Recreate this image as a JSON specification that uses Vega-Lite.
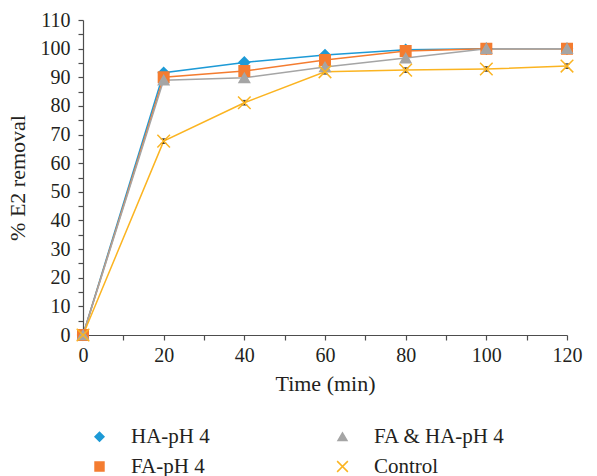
{
  "$schema": "https://vega.github.io/schema/vega-lite/v6.json",
  "width": 484,
  "height": 315,
  "autosize": {"type": "none"},
  "padding": {"left": 83, "top": 20, "right": 30, "bottom": 141},
  "background": "white",
  "config": {
    "font": "Liberation Serif",
    "view": {"stroke": null},
    "axis": {
      "grid": false,
      "domainColor": "#4d4d4d",
      "tickColor": "#4d4d4d",
      "domainWidth": 1.2,
      "tickWidth": 1.2,
      "tickSize": 5,
      "labelFont": "Liberation Serif",
      "titleFont": "Liberation Serif",
      "labelFontSize": 20,
      "titleFontSize": 22,
      "titleFontWeight": "normal",
      "labelColor": "#231f20",
      "titleColor": "#231f20"
    },
    "legend": {
      "labelFont": "Liberation Serif",
      "labelFontSize": 21,
      "labelColor": "#231f20"
    }
  },
  "data": {
    "values": [
      {"time": 0, "removal": 0, "series": "HA-pH 4"},
      {"time": 20, "removal": 91.6, "series": "HA-pH 4"},
      {"time": 40, "removal": 95.2, "series": "HA-pH 4"},
      {"time": 60, "removal": 97.8, "series": "HA-pH 4"},
      {"time": 80, "removal": 99.6, "series": "HA-pH 4"},
      {"time": 100, "removal": 100, "series": "HA-pH 4"},
      {"time": 120, "removal": 100, "series": "HA-pH 4"},
      {"time": 0, "removal": 0, "series": "FA-pH 4"},
      {"time": 20, "removal": 90, "series": "FA-pH 4"},
      {"time": 40, "removal": 92.2, "series": "FA-pH 4"},
      {"time": 60, "removal": 96, "series": "FA-pH 4"},
      {"time": 80, "removal": 99.2, "series": "FA-pH 4"},
      {"time": 100, "removal": 100, "series": "FA-pH 4"},
      {"time": 120, "removal": 100, "series": "FA-pH 4"},
      {"time": 0, "removal": 0, "series": "FA & HA-pH 4"},
      {"time": 20, "removal": 89, "series": "FA & HA-pH 4"},
      {"time": 40, "removal": 89.8, "series": "FA & HA-pH 4"},
      {"time": 60, "removal": 93.6, "series": "FA & HA-pH 4"},
      {"time": 80, "removal": 96.7, "series": "FA & HA-pH 4"},
      {"time": 100, "removal": 100, "series": "FA & HA-pH 4"},
      {"time": 120, "removal": 100, "series": "FA & HA-pH 4"},
      {"time": 0, "removal": 0, "series": "Control"},
      {"time": 20, "removal": 67.7, "lo": 66.9, "hi": 68.5, "series": "Control"},
      {"time": 40, "removal": 81.1, "lo": 80.3, "hi": 81.9, "series": "Control"},
      {"time": 60, "removal": 91.9, "lo": 91.1, "hi": 92.7, "series": "Control"},
      {"time": 80, "removal": 92.5, "lo": 91.7, "hi": 93.3, "series": "Control"},
      {"time": 100, "removal": 92.9, "lo": 92.1, "hi": 93.7, "series": "Control"},
      {"time": 120, "removal": 93.9, "lo": 93.1, "hi": 94.7, "series": "Control"}
    ]
  },
  "encoding": {
    "x": {
      "field": "time",
      "type": "quantitative",
      "scale": {"domain": [0, 120], "nice": false},
      "axis": {
        "title": "Time (min)",
        "values": [0, 10, 20, 30, 40, 50, 60, 70, 80, 90, 100, 110, 120],
        "labelExpr": "datum.value % 20 === 0 ? datum.label : ''",
        "labelPadding": 5,
        "titlePadding": 8,
        "labelFlush": false
      }
    },
    "y": {
      "field": "removal",
      "type": "quantitative",
      "scale": {"domain": [0, 110], "nice": false},
      "axis": {
        "title": "% E2 removal",
        "values": [0, 5, 10, 15, 20, 25, 30, 35, 40, 45, 50, 55, 60, 65, 70, 75, 80, 85, 90, 95, 100, 105, 110],
        "labelExpr": "datum.value % 10 === 0 ? datum.label : ''",
        "labelPadding": 8,
        "titlePadding": 11
      }
    }
  },
  "layer": [
    {
      "mark": {"type": "line", "strokeWidth": 1.5},
      "encoding": {
        "color": {
          "field": "series",
          "type": "nominal",
          "scale": {
            "domain": ["HA-pH 4", "FA-pH 4", "FA & HA-pH 4", "Control"],
            "range": ["#1d9ad6", "#f47c30", "#a5a5a5", "#fbb421"]
          },
          "title": null,
          "legend": {
            "orient": "none",
            "legendX": 6,
            "legendY": 406,
            "columns": 2,
            "columnPadding": 122,
            "rowPadding": 8,
            "padding": 0,
            "symbolSize": 80,
            "labelOffset": 21,
            "symbolStrokeWidth": 1.5
          }
        }
      }
    },
    {
      "transform": [{"filter": "datum.hi != null"}],
      "mark": {"type": "errorbar", "ticks": {"size": 6}, "color": "#231f20", "thickness": 1.2},
      "encoding": {
        "y": {"field": "lo", "type": "quantitative"},
        "y2": {"field": "hi"}
      }
    },
    {
      "mark": {"type": "point", "filled": true, "size": 110, "strokeWidth": 1.5, "opacity": 1},
      "encoding": {
        "fill": {
          "field": "series",
          "type": "nominal",
          "scale": {
            "domain": ["HA-pH 4", "FA-pH 4", "FA & HA-pH 4", "Control"],
            "range": ["#1d9ad6", "#f47c30", "#a5a5a5", "#fbb421"]
          },
          "legend": null
        },
        "shape": {
          "field": "series",
          "type": "nominal",
          "scale": {
            "domain": ["HA-pH 4", "FA-pH 4", "FA & HA-pH 4", "Control"],
            "range": ["diamond", "square", "triangle-up", "M-1.2,-1.2L1.2,1.2M-1.2,1.2L1.2,-1.2"]
          },
          "legend": null
        },
        "stroke": {
          "field": "series",
          "type": "nominal",
          "scale": {
            "domain": ["HA-pH 4", "FA-pH 4", "FA & HA-pH 4", "Control"],
            "range": ["#1d9ad6", "#f47c30", "#a5a5a5", "#fbb421"]
          },
          "legend": null
        }
      }
    }
  ]
}
